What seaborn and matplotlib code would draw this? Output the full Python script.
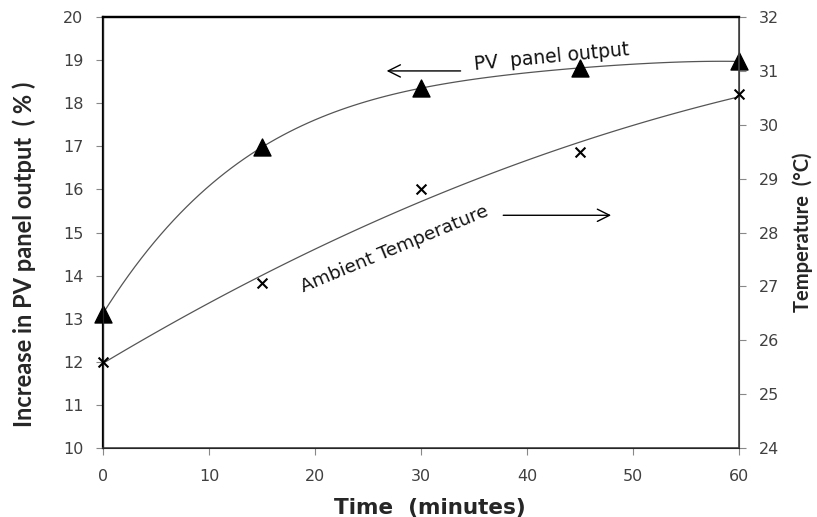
import numpy as np
import pandas as pd
import matplotlib
matplotlib.use("Agg")
import matplotlib.pyplot as plt
import seaborn as sns

time_min = [0, 15, 30, 45, 60]
pv_increase = [13.12, 16.98, 18.35, 18.82, 18.97]
ambient_temp = [25.6, 27.07, 28.81, 29.5, 30.57]

sns.set_style("ticks")
plt.rcParams["font.family"] = ["DejaVu Sans"]

df = pd.DataFrame({"time": time_min, "pv": pv_increase, "temp": ambient_temp})

fig = plt.figure(figsize=(8.17, 5.17), dpi=100)
ax = fig.add_axes([0.126, 0.1335, 0.7785, 0.8335])
ax2 = ax.twinx()

line_col = "#555555"

# Smooth curve through PV points
sns.regplot(data=df, x="time", y="pv", order=4, ci=None, scatter=False,
            line_kws=dict(color=line_col, lw=0.9), ax=ax)
sns.scatterplot(data=df, x="time", y="pv", marker="^", s=150, color="black",
                edgecolor="black", ax=ax, clip_on=False, zorder=5)

# Polynomial trendline for temperature
sns.regplot(data=df, x="time", y="temp", order=2, ci=None, scatter=False,
            line_kws=dict(color=line_col, lw=0.9), ax=ax2)
sns.scatterplot(data=df, x="time", y="temp", marker="x", s=50, color="black",
                linewidth=1.5, ax=ax2, clip_on=False, zorder=5)

ax.set_xlim(0, 60)
ax.set_ylim(10, 20)
ax2.set_ylim(24, 32)
ax.set_xticks(range(0, 61, 10))
ax.set_yticks(range(10, 21, 1))
ax2.set_yticks(range(24, 33, 1))

tick_col = "#404040"
for a in (ax, ax2):
    a.tick_params(axis="both", labelsize=11.5, colors="#888888", labelcolor=tick_col,
                  length=5, width=0.8, direction="out")
    a.tick_params(axis="y", pad=9)
    for s in a.spines.values():
        s.set_visible(True)
ax.tick_params(axis="x", pad=10)
ax.spines["left"].set_color("black")
ax.spines["left"].set_linewidth(1.6)
ax.spines["top"].set_color("black")
ax.spines["top"].set_linewidth(1.6)
ax.spines["bottom"].set_color("#444444")
ax.spines["bottom"].set_linewidth(1.2)
ax2.spines["right"].set_color("#444444")
ax2.spines["right"].set_linewidth(1.2)
ax2.spines["top"].set_color("black")
ax2.spines["top"].set_linewidth(1.6)

ax.set_xlabel("Time  (minutes)", family=["DejaVu Sans"],
              fontweight="bold", fontsize=15.5)
ax.xaxis.set_label_coords(0.514, -0.115)
ax.set_ylabel("Increase in PV panel output  ( % )",
              family=["Lato", "DejaVu Sans"], fontweight="bold", fontsize=17)
ax.yaxis.set_label_coords(-0.106, 0.45)
ax2.set_ylabel("Temperature  (°C)", labelpad=10, rotation=90,
               family=["Lato", "DejaVu Sans"], fontweight="bold", fontsize=14.5)

ax.text(42.3, 19.07, "PV  panel output", fontsize=13.5, rotation=5.5,
        ha="center", va="center", color="#111111")
ax.annotate("", xy=(26.5, 18.75), xytext=(34.0, 18.75),
            arrowprops=dict(arrowstyle="->", color="black", lw=1.0,
                            mutation_scale=22))
ax.text(27.5, 14.62, "Ambient Temperature", fontsize=13.3, rotation=22.5,
        ha="center", va="center", color="#111111")
ax.annotate("", xy=(48.2, 15.4), xytext=(37.5, 15.4),
            arrowprops=dict(arrowstyle="->", color="black", lw=1.0,
                            mutation_scale=22))

fig.savefig("out.png", dpi=100)
